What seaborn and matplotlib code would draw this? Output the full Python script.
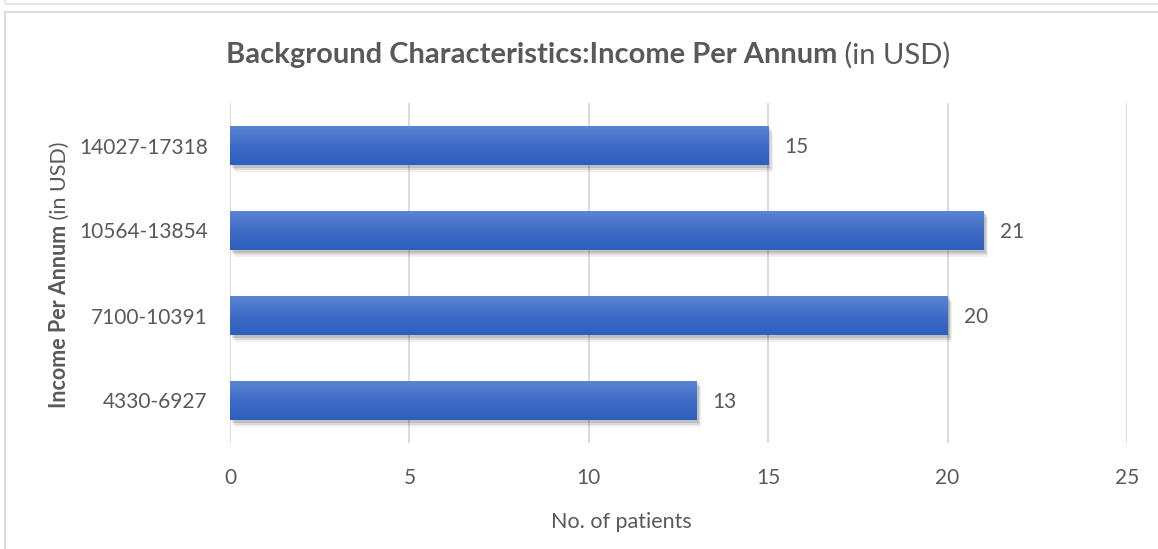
import seaborn as sns
import pandas as pd
import numpy as np
import matplotlib.pyplot as plt
import matplotlib.patheffects as pe
from matplotlib.patches import Rectangle
from matplotlib.colors import LinearSegmentedColormap

# data, top to bottom as in the chart
income_bands = ["14027-17318", "10564-13854", "7100-10391", "4330-6927"]
patients = [15, 21, 20, 13]
x_ticks = [0, 5, 10, 15, 20, 25]

TEXT = "#595959"
GRID = "#d9d9d9"
FONT = "Lato"


def add_mixed_text(fig, parts, x, y, rotation=0, size=12):
    """Draw text made of (string, weight) parts, centred at (x, y) in figure px."""
    renderer = fig.canvas.get_renderer()
    texts = []
    for s, w in parts:
        t = fig.text(0, 0, s, fontsize=size, fontweight=w, color=TEXT,
                     family=FONT, rotation=rotation, va="center",
                     ha="left" if rotation == 0 else "center",
                     transform=None)
        texts.append(t)
    lengths = []
    for t in texts:
        bb = t.get_window_extent(renderer)
        lengths.append(bb.width if rotation == 0 else bb.height)
    total = sum(lengths)
    pos = -total / 2
    for t, L in zip(texts, lengths):
        if rotation == 0:
            t.set_position((x + pos, y))
        else:
            t.set_position((x, y + pos + L / 2))
        pos += L
    return texts


def main():
    df = pd.DataFrame({"income": income_bands, "patients": patients})

    fig = plt.figure(figsize=(11.58, 5.49), dpi=100)
    W, H = 1158, 549
    ax = fig.add_axes([230 / W, 1 - 443 / H, (1127 - 230) / W, (443 - 103) / H])

    sns.barplot(data=df, y="income", x="patients", order=income_bands,
                color="#4472c4", width=0.47, ax=ax, zorder=3)

    cmap = LinearSegmentedColormap.from_list("bar", ["#5c86d3", "#3f6cc7", "#2d5fbd"])
    grad = np.linspace(0, 1, 64).reshape(-1, 1)
    for p in ax.patches:
        x0, y0, w, h = p.get_x(), p.get_y(), p.get_width(), p.get_height()
        p.set_path_effects([
            pe.SimplePatchShadow(offset=(3.5, -4.5), shadow_rgbFace="black", alpha=0.06),
            pe.SimplePatchShadow(offset=(2.5, -3.2), shadow_rgbFace="black", alpha=0.09),
            pe.SimplePatchShadow(offset=(1.5, -2), shadow_rgbFace="black", alpha=0.12),
            pe.Normal()])
        im = ax.imshow(grad, cmap=cmap, aspect="auto", origin="upper",
                       extent=[x0, x0 + w, y0 + h, y0], zorder=4)
        im.set_clip_path(p)

    for i, v in enumerate(patients):
        ax.text(v + 0.45, i + 0.02, str(v), va="center", ha="left", fontsize=15,
                color=TEXT, family=FONT)

    ax.set_xlim(0, 25)
    ax.set_ylim(3.5, -0.5)
    ax.set_xticks(x_ticks)
    ax.xaxis.grid(True, color=GRID, linewidth=1.3, zorder=0)
    ax.set_axisbelow(True)
    for s in ax.spines.values():
        s.set_visible(False)
    ax.tick_params(axis="both", length=0, labelsize=15, labelcolor=TEXT)
    ax.tick_params(axis="x", pad=18)
    ax.tick_params(axis="y", pad=16)
    for lab in ax.get_xticklabels() + ax.get_yticklabels():
        lab.set_family(FONT)
    ax.set_xlabel("")
    ax.set_ylabel("")

    fig.text(621 / W, 1 - 522 / H, "No. of patients", ha="center", va="center",
             fontsize=15.5, color=TEXT, family=FONT)

    add_mixed_text(fig, [("Background Characteristics:Income Per Annum", "bold"),
                         (" (in USD)", "normal")],
                   588, H - 55, size=21)
    add_mixed_text(fig, [("Income Per Annum", "bold"), (" (in USD)", "normal")],
                   60, H - 275, rotation=90, size=15.5)

    # chart border
    fig.patches.append(Rectangle((4.5, -10), 1170, H - 12 + 10, transform=None,
                                 fill=False, edgecolor=GRID, linewidth=1.3))
    fig.patches.append(Rectangle((4.5, H - 4), 1170, 10, transform=None,
                                 fill=False, edgecolor="#e3e6ea", linewidth=1.3))

    fig.savefig("out.png", dpi=100)
    plt.close(fig)


if __name__ == "__main__":
    main()
